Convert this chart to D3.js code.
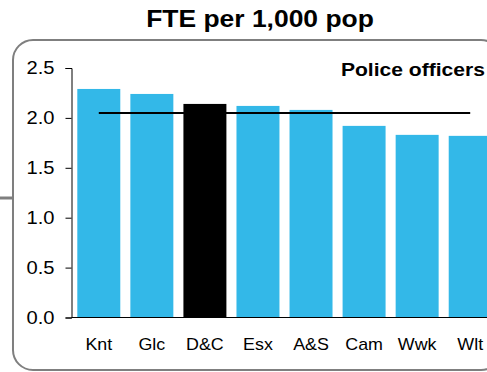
<!DOCTYPE html>
<html><head><meta charset="utf-8">
<script src="https://cdn.jsdelivr.net/npm/d3@7"></script>
<style>body{margin:0;background:#fff;overflow:hidden}svg{display:block;font-family:"Liberation Sans",Arial,sans-serif}</style>
</head><body>
<svg id="c" width="487" height="372"></svg>
<script>
const categories = ["Knt","Glc","D&C","Esx","A&S","Cam","Wwk","Wlt"];
const values = [2.29, 2.24, 2.14, 2.12, 2.08, 1.92, 1.83, 1.82];
const highlight = ["D&C"];
const average = [2.05];
const yTicks = [0, 0.5, 1.0, 1.5, 2.0, 2.5];
const title = "FTE per 1,000 pop";
const subtitle = "Police officers";

const svg = d3.select("#c");
// frame
svg.append("rect").attr("x",13).attr("y",40).attr("width",488).attr("height",330)
  .attr("rx",20).attr("fill","none").attr("stroke","#7f7f7f").attr("stroke-width",2);
svg.append("line").attr("x1",0).attr("x2",12).attr("y1",198).attr("y2",198)
  .attr("stroke","#7f7f7f").attr("stroke-width",3);

const x = d3.scaleBand().domain(categories).range([72,497]).paddingInner(0.19).paddingOuter(0.1);
const y = d3.scaleLinear().domain([0,2.5]).range([317.5,68]);

svg.append("g").selectAll("rect").data(categories).join("rect")
  .attr("x",d=>x(d)).attr("width",x.bandwidth())
  .attr("y",(d,i)=>y(values[i])).attr("height",(d,i)=>y(0)-y(values[i]))
  .attr("fill",d=>highlight.includes(d)?"#000":"#33b8e8");

svg.append("line")
  .attr("x1",x(categories[0])+x.bandwidth()/2).attr("x2",x(categories[categories.length-1])+x.bandwidth()/2)
  .attr("y1",y(average[0])).attr("y2",y(average[0])).attr("stroke","#000").attr("stroke-width",2);

const ya = svg.append("g").attr("transform","translate(71.5,0)")
  .call(d3.axisLeft(y).tickValues(yTicks).tickFormat(d3.format(".1f")).tickSize(6).tickPadding(11));
ya.select(".domain").attr("stroke","#000");
ya.selectAll(".tick line").attr("stroke","#000");
ya.selectAll(".tick text").attr("font-size",18).attr("fill","#000").attr("font-family",null)
  .attr("x",0).attr("transform","translate(-17,0) scale(1.12,1)");

const xa = svg.append("g").attr("transform","translate(0,317.5)")
  .call(d3.axisBottom(x).tickSize(0).tickPadding(20));
xa.select(".domain").attr("d","M71.5,0H487").attr("stroke","#000");
xa.selectAll(".tick text").attr("font-size",17).attr("fill","#000").attr("font-family",null)
  .attr("transform","scale(1.05,1)");

svg.append("text").attr("transform","translate(260,27) scale(1.15,1)").attr("text-anchor","middle")
  .attr("font-size",23).attr("font-weight","bold").text(title);
svg.append("text").attr("transform","translate(485,76) scale(1.11,1)").attr("text-anchor","end")
  .attr("font-size",19).attr("font-weight","bold").text(subtitle);
</script>
</body></html>
